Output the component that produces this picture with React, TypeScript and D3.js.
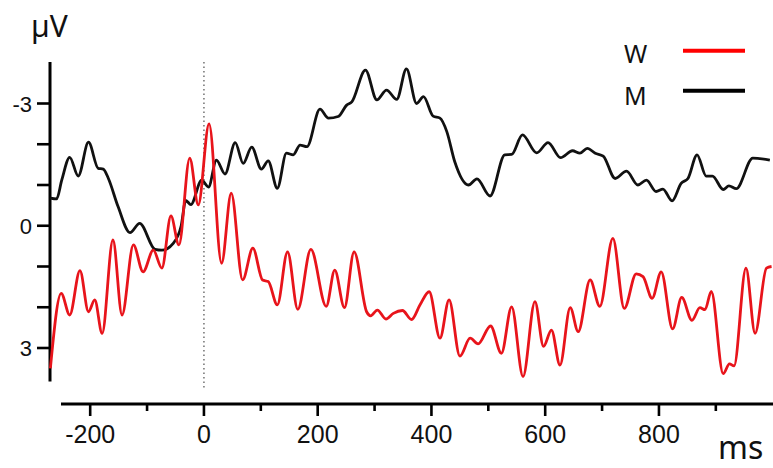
import React from "react";
import * as d3 from "d3";

const timeM = [-270, -259, -250, -236, -221, -203, -186, -177, -168, -151, -130, -113, -86, -74, -54, -40, -32, -23, -4, 8, 22, 37, 55, 69, 84, 101, 113, 129, 145, 157, 169, 181, 204, 219, 236, 251, 260, 284, 304, 321, 339, 356, 374, 386, 403, 415, 427, 441, 465, 480, 503, 529, 541, 560, 585, 605, 627, 648, 661, 674, 688, 702, 723, 743, 763, 778, 795, 807, 823, 839, 851, 867, 883, 894, 913, 923, 936, 965, 995];
const valueM = [-0.68, -0.66, -1.12, -1.68, -1.22, -2.05, -1.41, -1.39, -1.16, -0.47, 0.17, -0.06, 0.58, 0.6, 0.43, 0.0, -0.62, -0.52, -1.12, -0.95, -1.61, -1.27, -2.04, -1.53, -1.93, -1.39, -1.59, -0.92, -1.78, -1.74, -1.98, -1.94, -2.86, -2.64, -2.68, -2.96, -3.04, -3.82, -3.09, -3.33, -3.1, -3.85, -3.0, -3.17, -2.69, -2.64, -2.31, -1.57, -1.0, -1.15, -0.73, -1.74, -1.75, -2.23, -1.79, -2.04, -1.67, -1.84, -1.78, -1.9, -1.78, -1.71, -1.16, -1.34, -1.0, -1.12, -0.84, -0.9, -0.61, -1.04, -1.16, -1.74, -1.22, -1.22, -0.89, -0.98, -0.91, -1.66, -1.61];

const timeW = [-270, -251, -236, -218, -203, -192, -179, -160, -144, -124, -107, -89, -74, -58, -44, -25, -10, 9, 31, 48, 68, 86, 103, 113, 129, 147, 165, 188, 215, 230, 247, 264, 286, 293, 305, 320, 333, 349, 365, 380, 396, 415, 431, 450, 468, 482, 504, 523, 541, 561, 582, 597, 611, 626, 644, 658, 679, 696, 719, 739, 760, 772, 788, 804, 824, 840, 858, 872, 881, 892, 913, 924, 932, 953, 969, 989, 998];
const valueW = [3.5, 1.66, 2.19, 1.1, 2.11, 1.82, 2.64, 0.35, 2.19, 0.47, 1.13, 0.6, 1.04, -0.24, 0.47, -1.66, -0.51, -2.5, 0.92, -0.8, 1.33, 0.55, 1.33, 1.37, 1.94, 0.64, 2.05, 0.58, 1.98, 1.09, 2.01, 0.64, 2.11, 2.21, 2.07, 2.29, 2.15, 2.08, 2.3, 1.94, 1.62, 2.76, 1.82, 3.2, 2.76, 2.9, 2.46, 3.13, 1.99, 3.7, 1.86, 2.96, 2.56, 3.42, 2.01, 2.6, 1.33, 1.98, 0.31, 2.03, 1.18, 1.25, 1.78, 1.13, 2.53, 1.76, 2.32, 2.01, 2.06, 1.61, 3.63, 3.39, 3.44, 1.04, 2.64, 1.04, 1.0];

const xMajorTicks = [-200, 0, 200, 400, 600, 800];
const xMinorTicks = [-100, 100, 300, 500, 700, 900];
const yTicks = [-3, -2, -1, 0, 1, 2, 3];
const yLabelTicks = [-3, 0, 3];

const seriesNames = ["W", "M"];
const seriesColors = ["#e8141b", "#111111"];

export default function App() {
  const width = 773;
  const height = 468;
  const x = d3.scaleLinear().domain([-250, 1000]).range([61.75, 772.7]);
  const y = d3.scaleLinear().domain([-3, 3]).range([103.5, 348]);
  const yAxisX = 50;
  const xAxisY = 404;

  const line = d3
    .line<[number, number]>()
    .x((d) => x(d[0]))
    .y((d) => y(d[1]))
    .curve(d3.curveMonotoneX);

  const dataW: [number, number][] = timeW.map((t, i) => [t, valueW[i]]);
  const dataM: [number, number][] = timeM.map((t, i) => [t, valueM[i]]);

  const tickFont = "'Liberation Sans', Arial, sans-serif";
  const labelFont = "'Noto Sans', 'Open Sans', sans-serif";

  return (
    <svg
      width={width}
      height={height}
      style={{ position: "absolute", left: 0, top: 0, background: "#fff" }}
    >
      <rect x={0} y={0} width={width} height={height} fill="#fff" />
      {/* zero-time dotted line */}
      <line
        x1={x(0)}
        x2={x(0)}
        y1={62}
        y2={390}
        stroke="#666"
        strokeWidth={1.4}
        strokeDasharray="1.5,3"
      />
      {/* y axis */}
      <line x1={yAxisX} x2={yAxisX} y1={y(-4.02)} y2={y(3.82)} stroke="#000" strokeWidth={3} />
      {yTicks.map((t) => (
        <line key={"yt" + t} x1={37} x2={yAxisX} y1={y(t)} y2={y(t)} stroke="#000" strokeWidth={2.6} />
      ))}
      {yLabelTicks.map((t) => (
        <text
          key={"yl" + t}
          x={32}
          y={y(t) + 8}
          textAnchor="end"
          fontFamily={tickFont}
          fontSize={22}
          fill="#111"
        >
          {t}
        </text>
      ))}
      {/* x axis */}
      <line x1={61} x2={773} y1={xAxisY} y2={xAxisY} stroke="#000" strokeWidth={3} />
      {xMajorTicks.map((t) => (
        <line key={"xt" + t} x1={x(t)} x2={x(t)} y1={xAxisY} y2={xAxisY + 12} stroke="#000" strokeWidth={2.6} />
      ))}
      {xMinorTicks.map((t) => (
        <line key={"xm" + t} x1={x(t)} x2={x(t)} y1={xAxisY} y2={xAxisY + 7} stroke="#000" strokeWidth={2.6} />
      ))}
      {xMajorTicks.map((t) => (
        <text
          key={"xl" + t}
          x={x(t)}
          y={443}
          textAnchor="middle"
          fontFamily={tickFont}
          fontSize={25}
          fill="#111"
        >
          {t}
        </text>
      ))}
      {/* series */}
      <path d={line(dataM) || ""} fill="none" stroke={seriesColors[1]} strokeWidth={2.8} strokeLinejoin="round" />
      <path d={line(dataW) || ""} fill="none" stroke={seriesColors[0]} strokeWidth={2.8} strokeLinejoin="round" />
      {/* unit labels */}
      <text x={31} y={37} fontFamily={labelFont} fontSize={30} fill="#111">
        µV
      </text>
      <text x={718} y={459} fontFamily={labelFont} fontSize={32} fill="#111">
        ms
      </text>
      {/* legend */}
      {seriesNames.map((n, i) => (
        <g key={n}>
          <text x={624} y={63 + i * 42} fontFamily={labelFont} fontSize={25} fill="#111">
            {n}
          </text>
          <line
            x1={683}
            x2={745}
            y1={50.7 + i * 40}
            y2={50.7 + i * 40}
            stroke={i === 0 ? "#ff0000" : "#000"}
            strokeWidth={4}
          />
        </g>
      ))}
    </svg>
  );
}
